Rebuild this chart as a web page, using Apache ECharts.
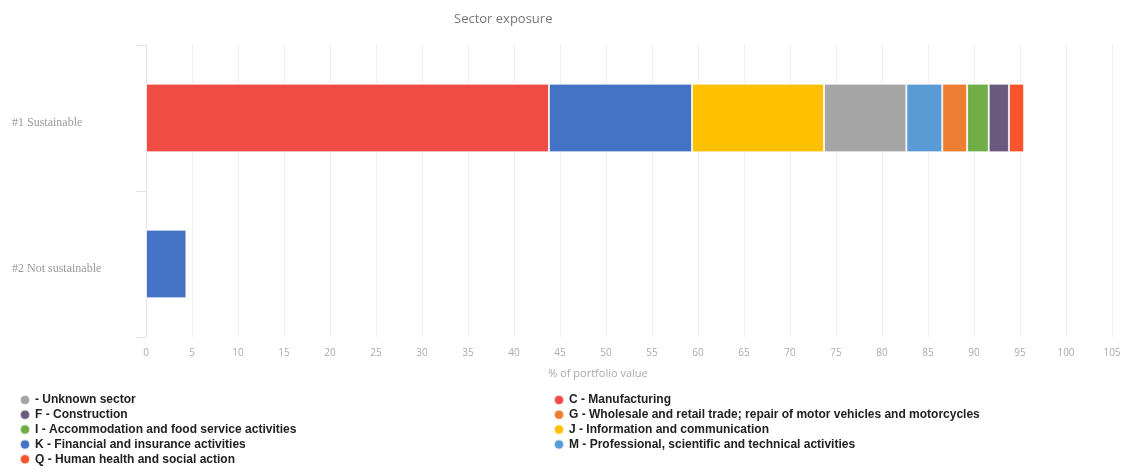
<!DOCTYPE html>
<html>
<head>
<meta charset="utf-8">
<script src="https://cdn.jsdelivr.net/npm/echarts@6/dist/echarts.min.js"></script>
<style>
html,body{margin:0;padding:0;background:#fff;}
#chart{width:1128px;height:473px;}
</style>
</head>
<body>
<div id="chart"></div>
<script>
const categories = ['#1 Sustainable', '#2 Not sustainable'];
const xTicks = [0,5,10,15,20,25,30,35,40,45,50,55,60,65,70,75,80,85,90,95,100,105];

const sectorNames = [
  'C - Manufacturing',
  'K - Financial and insurance activities',
  'J - Information and communication',
  '- Unknown sector',
  'M - Professional, scientific and technical activities',
  'G - Wholesale and retail trade; repair of motor vehicles and motorcycles',
  'I - Accommodation and food service activities',
  'F - Construction',
  'Q - Human health and social action'
];
const sectorColors = ['#EF4C45','#4472C4','#FFC000','#A5A5A5','#5B9BD5','#ED7D31','#70AD47','#6A5A7E','#F8552F'];

const manufacturing = [43.8, 0];
const financial = [15.55, 4.4];
const information = [14.35, 0];
const unknown = [8.95, 0];
const professional = [3.9, 0];
const wholesale = [2.7, 0];
const accommodation = [2.35, 0];
const construction = [2.2, 0];
const health = [1.65, 0];

const seriesValues = [manufacturing, financial, information, unknown, professional, wholesale, accommodation, construction, health];

const legendLeft = ['- Unknown sector','F - Construction','I - Accommodation and food service activities','K - Financial and insurance activities','Q - Human health and social action'];
const legendRight = ['C - Manufacturing','G - Wholesale and retail trade; repair of motor vehicles and motorcycles','J - Information and communication','M - Professional, scientific and technical activities'];

const chart = echarts.init(document.getElementById('chart'), null, {renderer:'canvas'});

const legendBase = {
  orient: 'vertical',
  top: 394,
  padding: 0,
  height: 79,
  icon: 'circle',
  itemWidth: 10,
  itemHeight: 10,
  itemGap: 2.8,
  selectedMode: false,
  textStyle: {fontFamily: 'Liberation Sans, Arial, sans-serif', fontWeight: 'bold', fontSize: 12, color: '#222', lineHeight: 12}
};

chart.setOption({
  animation: false,
  title: {
    text: 'Sector exposure',
    left: 449, top: 8,
    textStyle: {fontFamily: 'Open Sans, sans-serif', fontSize: 13, fontWeight: 'normal', color: '#777'}
  },
  legend: [
    Object.assign({}, legendBase, {left: 19, data: legendLeft}),
    Object.assign({}, legendBase, {left: 553, data: legendRight})
  ],
  grid: {left: 146, right: 16, top: 45, bottom: 136, containLabel: false},
  xAxis: {
    type: 'value',
    min: 0, max: 105, interval: 5,
    name: '% of portfolio value',
    nameLocation: 'middle',
    nameGap: 31,
    nameTextStyle: {fontFamily: 'Open Sans, sans-serif', fontSize: 11, color: '#aaa', padding: [0, 62, 0, 0]},
    axisLine: {show: false},
    axisTick: {show: false},
    axisLabel: {fontFamily: 'Open Sans, sans-serif', fontSize: 10, color: '#aaa', margin: 11,
      formatter: v => xTicks.includes(v) ? String(v) : ''},
    splitLine: {show: true, lineStyle: {color: '#eeeeee', width: 1}}
  },
  yAxis: {
    type: 'category',
    data: categories,
    inverse: true,
    axisLine: {show: true, lineStyle: {color: '#e3e3e3'}},
    axisTick: {show: true, length: 10, lineStyle: {color: '#e3e3e3'}},
    axisLabel: {fontFamily: 'Liberation Serif, Times New Roman, serif', fontSize: 12, color: '#999',
      align: 'left', margin: 134, verticalAlign: 'top', lineHeight: 10},
    splitLine: {show: false}
  },
  series: sectorNames.map((name, i) => ({
    name: name,
    type: 'bar',
    stack: 'total',
    barWidth: '47%',
    data: seriesValues[i],
    itemStyle: {color: sectorColors[i], borderColor: 'rgba(255,255,255,0.7)', borderWidth: 1}
  }))
});
</script>
</body>
</html>
